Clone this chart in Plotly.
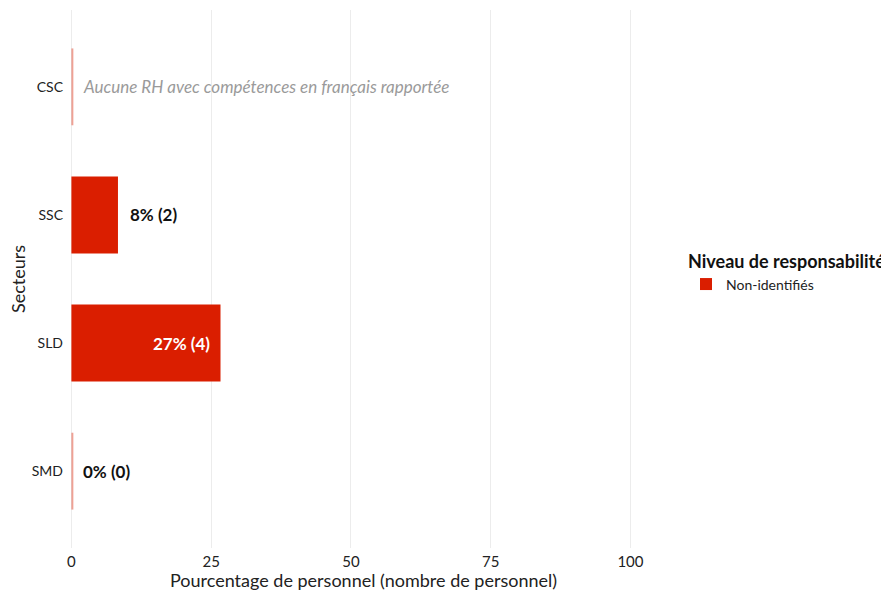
import plotly.graph_objects as go

sectors = ["CSC", "SSC", "SLD", "SMD"]
pct = [None, 8.33, 26.67, 0.0]
counts = [None, 2, 4, 0]
series_name = "Non-identifiés"
no_data_note = "Aucune RH avec compétences en français rapportée"
x_title = "Pourcentage de personnel (nombre de personnel)"
y_title = "Secteurs"
legend_title = "Niveau de responsabilité"
x_ticks = [0, 25, 50, 75, 100]

RED = "#DA1E00"
FONT = "Lato, 'Open Sans', sans-serif"

fig = go.Figure()

vals = [v if v is not None else 0 for v in pct]
fig.add_trace(go.Bar(
    y=sectors, x=vals, orientation="h", name=series_name,
    marker=dict(color=RED, line=dict(width=0)), width=0.6,
    showlegend=True, hoverinfo="skip",
))
# thin outline stubs for zero / missing values (drawn like a zero-width bar outline)
stub_y = [s for s, v in zip(sectors, pct) if v is None or v == 0]
fig.add_trace(go.Bar(
    y=stub_y, x=[0.35] * len(stub_y), orientation="h",
    marker=dict(color="rgba(218,30,0,0.42)", line=dict(width=0)), width=0.6,
    showlegend=False, hoverinfo="skip",
))

annotations = []
for s, v, c in zip(sectors, pct, counts):
    if v is None:
        annotations.append(dict(
            x=0, y=s, xref="x", yref="y", text=f"<i>{no_data_note}</i>", showarrow=False,
            xanchor="left", xshift=10, font=dict(family=FONT, size=17, color="#9a9a9a"),
        ))
        continue
    label = f"<b>{round(v)}% ({c})</b>"
    if v > 15:
        annotations.append(dict(
            x=v, y=s, xref="x", yref="y", text=label, showarrow=False,
            xanchor="right", xshift=-9, font=dict(family=FONT, size=17, color="white"),
        ))
    else:
        annotations.append(dict(
            x=v, y=s, xref="x", yref="y", text=label, showarrow=False,
            xanchor="left", xshift=10, font=dict(family=FONT, size=17, color="#111111"),
        ))

# axis titles
annotations.append(dict(
    x=0.5, y=0, xref="paper", yref="paper", text=x_title, showarrow=False,
    xanchor="center", yanchor="middle", yshift=-32,
    font=dict(family=FONT, size=18, color="#222222"),
))
annotations.append(dict(
    x=0, y=0.5, xref="paper", yref="paper", text=y_title, showarrow=False,
    xanchor="center", yanchor="middle", xshift=-52, textangle=-90,
    font=dict(family=FONT, size=18, color="#222222"),
))

fig.update_layout(
    width=881, height=585,
    margin=dict(l=62, r=231, t=2, b=45),
    paper_bgcolor="white", plot_bgcolor="white",
    barmode="overlay",
    font=dict(family=FONT, size=14, color="#222222"),
    annotations=annotations,
    legend=dict(
        x=(678 - 62) / 588, y=0.512, xanchor="left", yanchor="middle",
        title=dict(text=f"<b>{legend_title}</b>", font=dict(family=FONT, size=18, color="#111111")),
        font=dict(family=FONT, size=14, color="#222222"),
        traceorder="normal", tracegroupgap=0,
    ),
    xaxis=dict(
        automargin=False,
        range=[-0.25, 104.75], tickvals=x_ticks, ticktext=[str(t) for t in x_ticks],
        showgrid=True, gridcolor="#ececec", gridwidth=1, zeroline=False,
        showline=False, ticks="", ticklabelstandoff=3,
        tickfont=dict(family=FONT, size=15, color="#222222"),
    ),
    yaxis=dict(
        automargin=False,
        categoryorder="array", categoryarray=sectors[::-1],
        showgrid=False, zeroline=False, showline=False, ticks="",
        range=[-0.6, 3.6], ticklabelstandoff=6,
        tickfont=dict(family=FONT, size=14, color="#222222"),
    ),
)

fig.write_html("out.html")
